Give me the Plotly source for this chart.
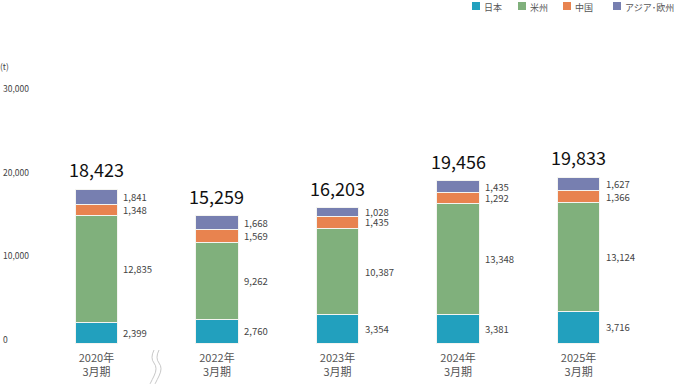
import plotly.graph_objects as go

categories = ["2020年<br>3月期", "2022年<br>3月期", "2023年<br>3月期", "2024年<br>3月期", "2025年<br>3月期"]
series_names = ["日本", "米州", "中国", "アジア･欧州"]
japan = [2399, 2760, 3354, 3381, 3716]
americas = [12835, 9262, 10387, 13348, 13124]
china = [1348, 1569, 1435, 1292, 1366]
asia_europe = [1841, 1668, 1028, 1435, 1627]
totals = [18423, 15259, 16203, 19456, 19833]
y_tick_vals = [0, 10000, 20000, 30000]
y_tick_text = ["0", "10,000", "20,000", "30,000"]

colors = ["#22a0be", "#80b07c", "#e8834f", "#777fb0"]
series = [japan, americas, china, asia_europe]

W, H = 675, 389
ML, MR, MT, MB = 0, 0, 0, 39
PH = H - MT - MB          # plot height in px
BASE_PX = 343             # pixel row of value 0
SCALE = 83.5 / 10000      # px per unit
y_min = -(MT + PH - BASE_PX) / SCALE
y_max = (BASE_PX - MT) / SCALE
xs = list(range(len(categories)))
FONT = "Noto Sans CJK JP"

def px2paper(px, py):
    return (px - ML) / (W - ML - MR), (MT + PH - py) / PH

fig = go.Figure()
for name, vals, col in zip(series_names, series, colors):
    fig.add_trace(go.Bar(
        x=xs, y=vals, name=name, width=0.35,
        marker=dict(color=col, line=dict(color="#f4f4f0", width=1)),
        hoverinfo="skip", showlegend=False,
    ))

annotations = []
for i in xs:
    base = 0
    for vals in series:
        v = vals[i]
        annotations.append(dict(
            x=i, y=base + v / 2, xref="x", yref="y", text=f"{v:,}",
            showarrow=False, xanchor="left", yanchor="middle", xshift=25,
            font=dict(size=9.5, color="#444444", family=FONT),
        ))
        base += v
    annotations.append(dict(
        x=i, y=totals[i], xref="x", yref="y", text=f"{totals[i]:,}",
        showarrow=False, xanchor="center", yanchor="bottom", yshift=5,
        font=dict(size=18, color="#111111", family=FONT),
    ))

ux, uy = px2paper(0, 66)
annotations.append(dict(
    x=ux, y=uy, xref="paper", yref="paper", text="(t)",
    showarrow=False, xanchor="left", yanchor="middle", xshift=-2,
    font=dict(size=8.5, color="#444444", family=FONT),
))

shapes = []
# legend (squares + labels) at the top right
legend_x = [472, 518, 563, 613]
for name, col, lx in zip(series_names, colors, legend_x):
    x0, y0 = px2paper(lx, 10)
    x1, y1 = px2paper(lx + 8, 2)
    shapes.append(dict(type="rect", xref="paper", yref="paper", x0=x0, y0=y0, x1=x1, y1=y1,
                       fillcolor=col, line=dict(width=0)))
    tx, ty = px2paper(lx + 10, 7)
    annotations.append(dict(
        x=tx, y=ty, xref="paper", yref="paper", text=name, showarrow=False,
        xanchor="left", yanchor="middle",
        font=dict(size=9, color="#555555", family=FONT),
    ))

# break (squiggle) marks between first and second category
for off in (0, 5):
    pts = [(154 + off, 350), (150 + off, 358), (158 + off, 368), (154 + off, 376), (150 + off, 384)]
    p = [px2paper(a, b) for a, b in pts]
    path = (f"M {p[0][0]},{p[0][1]} Q {p[1][0]},{p[1][1]} "
            f"{(p[1][0] + p[2][0]) / 2},{(p[1][1] + p[2][1]) / 2} "
            f"T {p[3][0]},{p[3][1]} T {p[4][0]},{p[4][1]}")
    shapes.append(dict(type="path", xref="paper", yref="paper", path=path,
                       line=dict(color="#c8c8c8", width=1)))

fig.update_layout(
    width=W, height=H,
    margin=dict(l=ML, r=MR, t=MT, b=MB, autoexpand=False),
    barmode="stack",
    plot_bgcolor="white", paper_bgcolor="white",
    font=dict(family=FONT, color="#444444"),
    xaxis=dict(
        range=[-0.8, 4.8], tickvals=xs, ticktext=categories,
        showgrid=False, zeroline=False, showline=False, ticks="",
        tickfont=dict(size=11, color="#555555", family=FONT),
        fixedrange=True, automargin=False,
    ),
    yaxis=dict(
        range=[y_min, y_max], tickvals=y_tick_vals, ticktext=y_tick_text,
        showgrid=False, zeroline=False, showline=False, ticks="",
        ticklabelposition="inside", ticklabelstandoff=0, ticklabelshift=-3,
        tickfont=dict(size=8.5, color="#444444", family=FONT),
        fixedrange=True, automargin=False,
    ),
    annotations=annotations,
    shapes=shapes,
    showlegend=False,
)

fig.write_html(
    "out.html",
    config={"displayModeBar": False},
    post_script="document.body.style.margin='0';document.body.style.overflow='hidden';",
)
